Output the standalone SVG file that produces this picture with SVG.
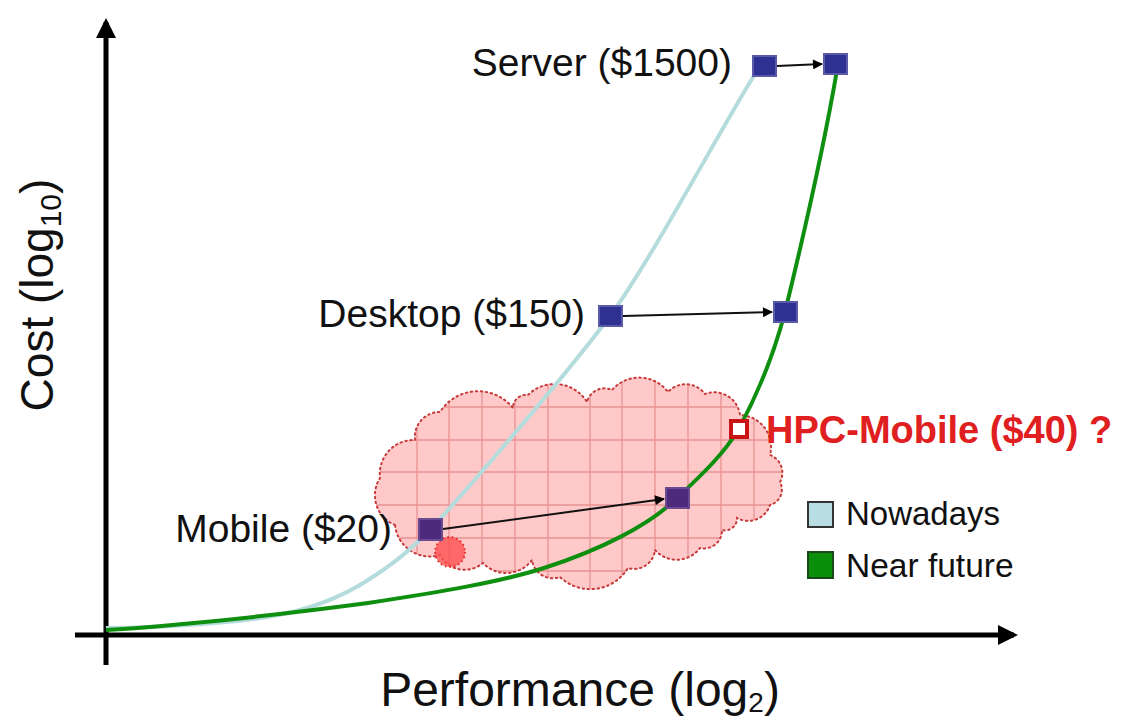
<svg xmlns="http://www.w3.org/2000/svg" width="1125" height="722" viewBox="0 0 1125 722">
<defs>
<style>
.lbl{font-family:"Liberation Sans",Arial,sans-serif;fill:#111;}
.node{fill:#2e3192;stroke:#5a5aa8;stroke-width:2;}
.mnode{fill:#4e2a7c;stroke:#6a4a90;stroke-width:2;}
.conn{stroke:#111;stroke-width:2;fill:none;}
.axis{stroke:#000;stroke-width:5;fill:none;}
.grid{stroke:#e89393;stroke-width:1.3;}
</style>
<marker id="ah" viewBox="0 0 10 10" refX="9" refY="5" markerWidth="5.5" markerHeight="5" orient="auto" markerUnits="strokeWidth">
<path d="M0,0 L10,5 L0,10 z" fill="#000"/>
</marker>
<marker id="axh" viewBox="0 0 10 10" refX="8" refY="5" markerWidth="4" markerHeight="4" orient="auto" markerUnits="strokeWidth">
<path d="M0,0 L10,5 L0,10 z" fill="#000"/>
</marker>
<clipPath id="cloudclip">
<path id="cloudpath" d="M395,525 A32,32 0 0 1 380,478 A34,34 0 0 1 415,440 A25,25 0 0 1 440,412 A45,45 0 0 1 513,408 A13,13 0 0 1 528,395 A38,38 0 0 1 587,402 A18,18 0 0 1 612,390 A36,36 0 0 1 668,392 A24,24 0 0 1 705,394 A26,26 0 0 1 740,415 A32,32 0 0 1 770,455 A19,19 0 0 1 780,482 A16,16 0 0 1 770,505 A23,23 0 0 1 737,518 A12,12 0 0 1 722,530 A18,18 0 0 1 700,548 A29,29 0 0 1 655,550 A21,21 0 0 1 628,568 A44,44 0 0 1 560,577 A21,21 0 0 1 532,560 A32,32 0 0 1 483,563 A28,28 0 0 1 440,555 A35,35 0 0 1 395,525 Z"/>
</clipPath>
</defs>
<rect width="1125" height="722" fill="#fff"/>

<g id="cloud">
<use href="#cloudpath" fill="#ffc9c9"/>
<g clip-path="url(#cloudclip)">
<path class="grid" d="M417,380V590M449,380V590M482,380V590M515,380V590M548,380V590M590,380V590M622,380V590M655,380V590M688,380V590M721,380V590M754,380V590M370,407H790M370,440H790M370,472H790M370,505H790M370,538H790M370,571H790"/>
</g>
<use href="#cloudpath" fill="none" stroke="#c83a3a" stroke-width="2" stroke-dasharray="1.5 3.5" stroke-linecap="round"/>
<circle cx="450" cy="552" r="15" fill="#ff5050" opacity="0.8"/>
<circle cx="450" cy="552" r="15" fill="none" stroke="#e02828" stroke-width="2" stroke-dasharray="1.5 3"/>
</g>

<g id="axes">
<line class="axis" x1="106" y1="665" x2="106" y2="22" marker-end="url(#axh)"/>
<line class="axis" x1="75" y1="635" x2="1014" y2="635" marker-end="url(#axh)"/>
</g>

<g id="curves">
<path d="M106,628 C180,627 235,622 268,617 C310,610 345,595 368,580 C395,563 410,550 430,530 C480,475 570,370 610,316 C650,262 720,130 755,74" fill="none" stroke="#b5dcdc" stroke-width="4"/>
<path d="M106,630 C200,624 300,612 368,603 C440,592 500,582 544,568 C600,550 650,525 677,498 C705,472 725,452 738,430 C760,390 775,350 785,312 C805,230 825,140 837,70" fill="none" stroke="#0f8f0f" stroke-width="4"/>
</g>

<g id="connectors">
<line class="conn" x1="777" y1="66" x2="822" y2="64" marker-end="url(#ah)"/>
<line class="conn" x1="623" y1="316" x2="772" y2="312" marker-end="url(#ah)"/>
<line class="conn" x1="443" y1="529" x2="664" y2="499" marker-end="url(#ah)"/>
</g>

<g id="server-now"><rect class="node" x="753" y="56" width="23" height="20"/><text class="lbl" x="732" y="76" font-size="39" text-anchor="end">Server ($1500)</text></g>
<g id="server-future"><rect class="node" x="824" y="54" width="23" height="20"/></g>
<g id="desktop-now"><rect class="node" x="599" y="306" width="23" height="20"/><text class="lbl" x="585" y="327" font-size="39" text-anchor="end">Desktop ($150)</text></g>
<g id="desktop-future"><rect class="node" x="774" y="302" width="23" height="20"/></g>
<g id="mobile-now"><rect class="mnode" x="419" y="519" width="23" height="21"/><text class="lbl" x="392" y="542" font-size="39" text-anchor="end">Mobile ($20)</text></g>
<g id="mobile-future"><rect class="mnode" x="666" y="488" width="23" height="20"/></g>
<g id="hpc-mobile"><rect x="731" y="421" width="16" height="16" fill="#fff" stroke="#c81414" stroke-width="4"/><text x="766" y="443" font-size="38" font-weight="bold" fill="#e02020" font-family="'Liberation Sans',Arial,sans-serif">HPC-Mobile ($40) ?</text></g>

<g id="legend">
<rect x="808" y="502" width="25" height="25" fill="#b8dde3" stroke="#333" stroke-width="2"/>
<text class="lbl" x="846" y="525" font-size="33">Nowadays</text>
<rect x="808" y="552" width="25" height="26" fill="#0a8f0a" stroke="#1a4a1a" stroke-width="2"/>
<text class="lbl" x="846" y="577" font-size="33.5">Near future</text>
</g>

<g id="axis-labels">
<text class="lbl" x="580" y="706" font-size="48" text-anchor="middle">Performance (log<tspan font-size="28" dy="6">2</tspan><tspan dy="-6">)</tspan></text>
<text class="lbl" transform="translate(53,295) rotate(-90)" font-size="46" text-anchor="middle">Cost (log<tspan font-size="30" dy="8">10</tspan><tspan dy="-8">)</tspan></text>
</g>
</svg>
